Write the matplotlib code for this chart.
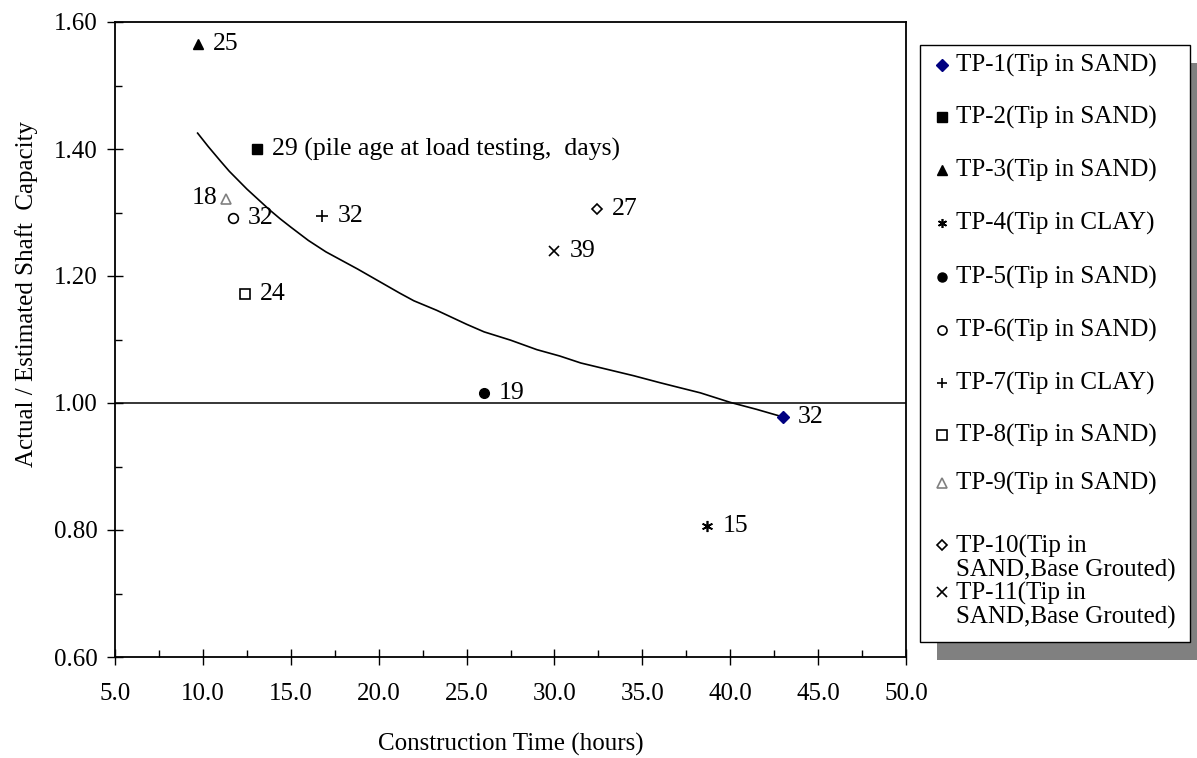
#!/usr/bin/env python3
"""
Shaft capacity ratio vs construction time for the test piles
"""

import matplotlib
matplotlib.use('Agg')
import matplotlib.pyplot as plt
from matplotlib.patches import Rectangle
from matplotlib.lines import Line2D
from matplotlib.ticker import MultipleLocator, FormatStrFormatter

# Test piles: construction time (hours), actual/estimated shaft capacity, pile age (days)
pile_names = ['TP-1(Tip in SAND)', 'TP-2(Tip in SAND)', 'TP-3(Tip in SAND)',
              'TP-4(Tip in CLAY)', 'TP-5(Tip in SAND)', 'TP-6(Tip in SAND)',
              'TP-7(Tip in CLAY)', 'TP-8(Tip in SAND)', 'TP-9(Tip in SAND)',
              'TP-10(Tip in\nSAND,Base Grouted)', 'TP-11(Tip in\nSAND,Base Grouted)']
construction_hours = [43.0, 13.1, 9.7, 38.7, 26.0, 11.7, 16.8, 12.4, 11.3, 32.4, 30.0]
capacity_ratio = [0.978, 1.400, 1.565, 0.806, 1.016, 1.292, 1.294, 1.172, 1.321, 1.305, 1.240]
pile_age = ['32', '29 (pile age at load testing,  days)', '25', '15', '19', '32',
            '32', '24', '18', '27', '39']

# Trend curve
trend_hours = [9.7, 10.3, 11.0, 11.5, 12.5, 13.8, 14.4, 15.0, 16.0, 17.0, 18.8,
               20.0, 21.2, 22.0, 23.3, 25.0, 26.0, 27.5, 29.0, 30.3, 31.5, 33.0,
               34.5, 36.0, 37.0, 38.3, 40.0, 41.5, 43.0]
trend_ratio = [1.425, 1.404, 1.381, 1.365, 1.337, 1.304, 1.290, 1.277, 1.256, 1.238,
               1.211, 1.192, 1.173, 1.161, 1.146, 1.124, 1.112, 1.099, 1.084, 1.074,
               1.063, 1.053, 1.043, 1.032, 1.025, 1.016, 1.001, 0.990, 0.978]

# Marker styles (style only, no data)
STYLES = [
    dict(marker='D', ms=6.5, mfc='#000080', mec='#000080'),
    dict(marker='s', ms=6.5, mfc='black', mec='black'),
    dict(marker='^', ms=7, mfc='black', mec='black'),
    dict(marker=(6, 2, 0), ms=8, mfc='none', mec='black', mew=1.2),
    dict(marker='o', ms=7, mfc='black', mec='black'),
    dict(marker='o', ms=7, mfc='none', mec='black', mew=1.2),
    dict(marker='+', ms=9, mfc='none', mec='black', mew=1.2),
    dict(marker='s', ms=7, mfc='none', mec='black', mew=1.2),
    dict(marker='^', ms=7, mfc='none', mec='#808080', mew=1.2),
    dict(marker='D', ms=5.5, mfc='none', mec='black', mew=1.2),
    dict(marker='x', ms=7, mfc='none', mec='black', mew=1.2),
]

W, H = 1197, 758
FONT = 'Liberation Serif'
FS = 18


def px(x, y):
    """pixel (top-left origin) -> figure fraction"""
    return x / W, 1 - y / H


def make_chart():
    plt.rcParams['font.family'] = FONT
    fig = plt.figure(figsize=(W / 100, H / 100), dpi=100)
    ax = fig.add_axes([115 / W, 101 / H, 791 / W, 635 / H])

    ax.set_xlim(5, 50)
    ax.set_ylim(0.6, 1.6)
    ax.xaxis.set_major_locator(MultipleLocator(5))
    ax.xaxis.set_minor_locator(MultipleLocator(2.5))
    ax.yaxis.set_major_locator(MultipleLocator(0.2))
    ax.yaxis.set_minor_locator(MultipleLocator(0.1))
    ax.xaxis.set_major_formatter(FormatStrFormatter('%.1f'))
    ax.yaxis.set_major_formatter(FormatStrFormatter('%.2f'))
    ax.tick_params(which='major', direction='inout', length=11, width=1,
                   labelsize=FS, pad=7)
    ax.tick_params(axis='x', which='major', pad=13)
    ax.tick_params(which='minor', direction='in', length=5, width=1)
    for s in ax.spines.values():
        s.set_linewidth(1.3)

    ax.axhline(1.0, color='black', lw=1.1)
    ax.plot(trend_hours, trend_ratio, color='black', lw=1.2)

    for i in range(len(construction_hours)):
        ax.plot([construction_hours[i]], [capacity_ratio[i]], ls='none', **STYLES[i])
        if pile_age[i] == '18':
            off, ha = (-8, 1), 'right'
        else:
            off, ha = (15, 0), 'left'
        ax.annotate(pile_age[i], (construction_hours[i], capacity_ratio[i]),
                    xytext=off, textcoords='offset pixels', ha=ha, va='center',
                    fontsize=FS + 0.5)

    ax.set_xlabel('Construction Time (hours)', fontsize=FS, labelpad=20)
    ax.set_ylabel('Actual / Estimated Shaft  Capacity', fontsize=FS)
    ax.yaxis.set_label_coords((38 - 115) / 791, (657 - 294) / 635)

    # legend box with drop shadow, drawn by hand (Excel style)
    x0, y0, x1, y1 = 920, 45, 1190, 642
    sx, sy = 17, 18
    fig.add_artist(Rectangle(px(x0 + sx, y1 + sy), (x1 - x0) / W, (y1 - y0) / H,
                             transform=fig.transFigure, facecolor='#808080',
                             edgecolor='none', zorder=1))
    fig.add_artist(Rectangle(px(x0, y1), (x1 - x0) / W, (y1 - y0) / H,
                             transform=fig.transFigure, facecolor='white',
                             edgecolor='black', lw=1, zorder=2))
    rows = [65, 117, 170, 223, 277, 330, 383, 435, 483, 545, 592]
    for i, name in enumerate(pile_names):
        yy = rows[i]
        mx, my = px(942, yy)
        fig.add_artist(Line2D([mx], [my], transform=fig.transFigure, ls='none',
                              zorder=3, **{**STYLES[i], 'ms': min(STYLES[i]['ms'], 6.5)}))
        if '\n' in name:
            tx, ty = px(956, yy - 10)
            fig.text(tx, ty, name, fontsize=FS, va='top', ha='left', zorder=3,
                     linespacing=1.05)
        else:
            tx, ty = px(956, yy)
            fig.text(tx, ty, name, fontsize=FS, va='center', ha='left', zorder=3)

    fig.savefig('out.png', dpi=100)
    plt.close(fig)


if __name__ == '__main__':
    make_chart()
